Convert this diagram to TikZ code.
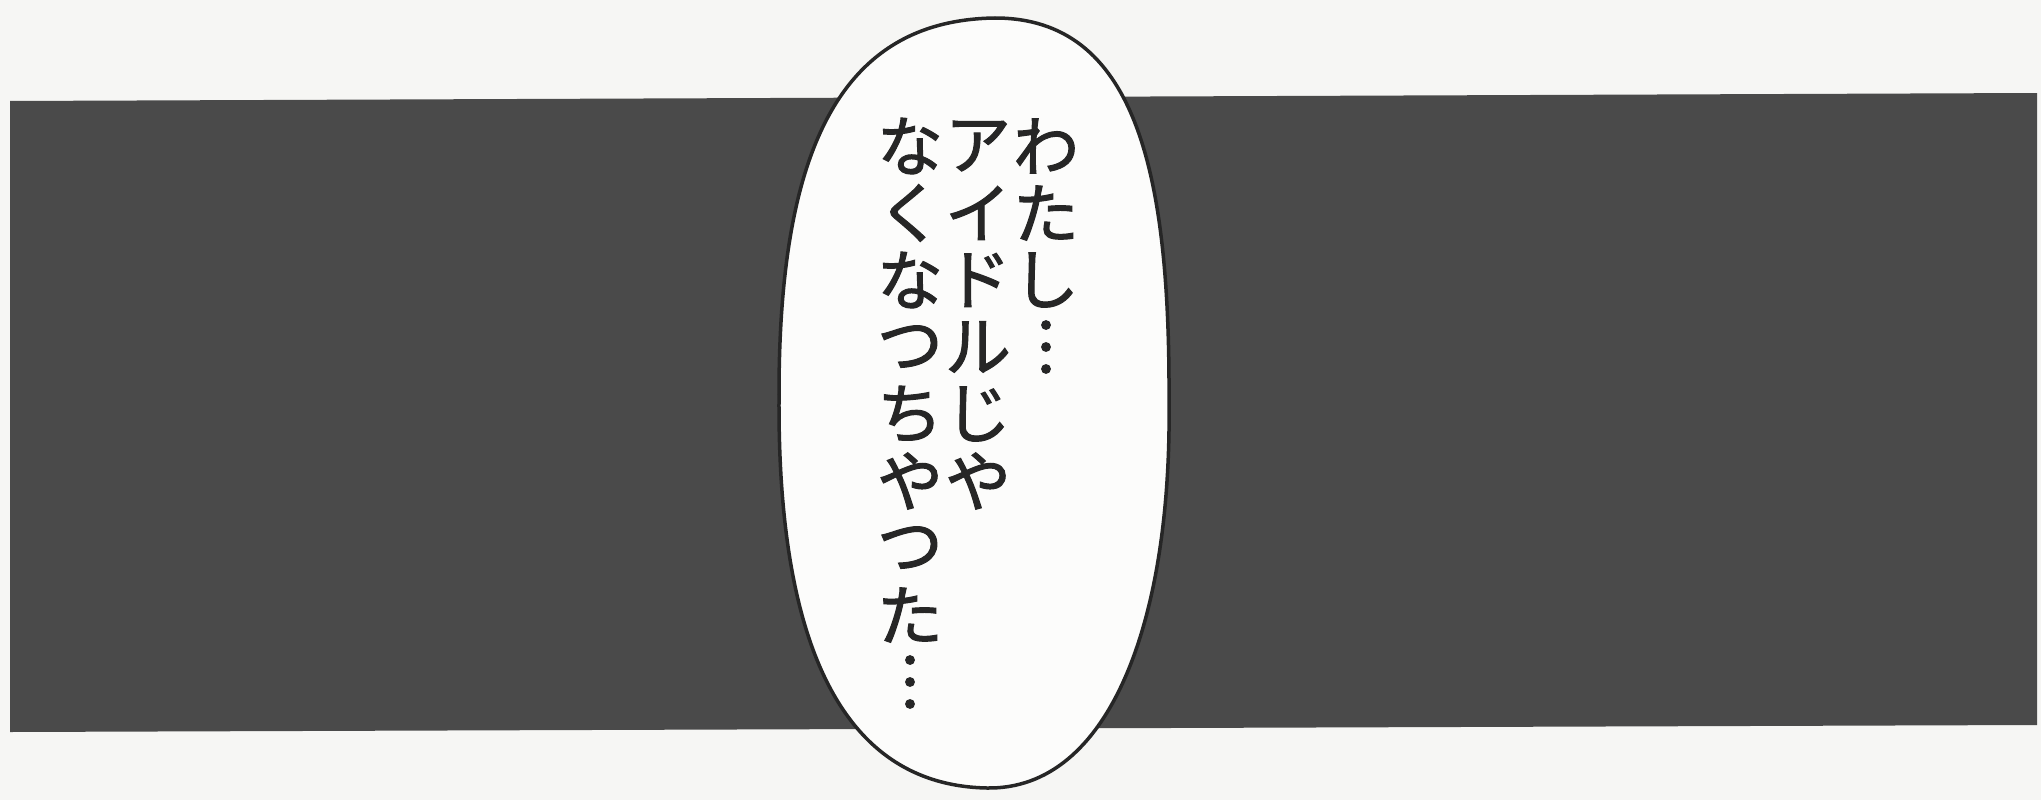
\documentclass[tikz,border=0pt]{standalone}
\usepackage{fontspec}
\newfontfamily\cjk[FakeBold=1.6]{Noto Sans CJK JP}
\definecolor{paper}{HTML}{F6F6F4}
\definecolor{panel}{HTML}{4A4A4A}
\definecolor{ink}{HTML}{262626}
\definecolor{bubblefill}{HTML}{FCFCFB}
\tikzset{
  jp/.style={font=\cjk\fontsize{66}{67}\selectfont, text=ink, inner sep=0pt, anchor=center},
  bubbleline/.style={draw=ink, line width=3.5pt, fill=bubblefill, line join=round}
}
\begin{document}
\begin{tikzpicture}[x=1pt,y=-1pt]
\useasboundingbox (0,0) rectangle (2041,800);
\fill[paper] (0,0) rectangle (2041,800);
% dark panel
\fill[panel] (10,101) -- (2037,93) -- (2037,725) -- (10,732) -- cycle;
% speech bubble
\coordinate (btop) at (995,18);
\coordinate (bright) at (1169,400);
\coordinate (bbot) at (987,788);
\coordinate (bleft) at (779,400);
\draw[bubbleline] (btop)
  .. controls (1135,18) and (1170,170) .. (bright)
  .. controls (1172,620) and (1110,790) .. (bbot)
  .. controls (830,785) and (778,620) .. (bleft)
  .. controls (778,150) and (840,20) .. (btop) -- cycle;
% vertical text, right column first
\foreach \ch [count=\i from 0] in {わ,た,し,︙}
  \node[jp] (r\i) at (1046,146+67*\i) {\ch};
\foreach \ch [count=\i from 0] in {ア,イ,ド,ル,じ,や}
  \node[jp] (m\i) at (978,146+67*\i) {\ch};
\foreach \ch [count=\i from 0] in {な,く,な,つ,ち,や,つ,た,︙}
  \node[jp] (l\i) at (910,146+67*\i) {\ch};
\end{tikzpicture}
\end{document}
